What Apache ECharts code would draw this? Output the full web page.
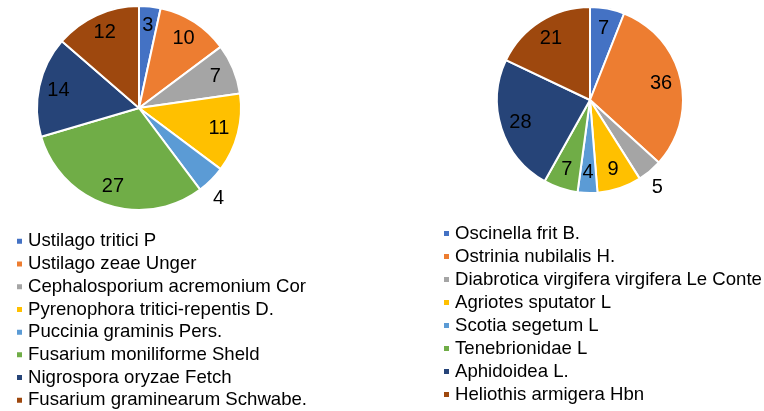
<!DOCTYPE html>
<html>
<head>
<meta charset="utf-8">
<script src="https://cdn.jsdelivr.net/npm/echarts@6/dist/echarts.min.js"></script>
<style>
  html, body { margin: 0; padding: 0; background: #fff; }
  #chart { width: 764px; height: 411px; }
</style>
</head>
<body>
<div id="chart"></div>
<script>
// left pie: diseases
const diseaseNames = [
  'Ustilago tritici P',
  'Ustilago zeae Unger',
  'Cephalosporium acremonium Cor',
  'Pyrenophora tritici-repentis D.',
  'Puccinia graminis Pers.',
  'Fusarium moniliforme Sheld',
  'Nigrospora oryzae Fetch',
  'Fusarium graminearum Schwabe.'
]
const diseaseValues = [3, 10, 7, 11, 4, 27, 14, 12]

// right pie: pests
const pestNames = [
  'Oscinella frit B.',
  'Ostrinia nubilalis H.',
  'Diabrotica virgifera virgifera Le Conte',
  'Agriotes sputator L',
  'Scotia segetum L',
  'Tenebrionidae L',
  'Aphidoidea L.',
  'Heliothis armigera Hbn'
]
const pestValues = [7, 36, 5, 9, 4, 7, 28, 21]

const colors = ['#4472C4', '#ED7D31', '#A5A5A5', '#FFC000', '#5B9BD5', '#70AD47', '#264478', '#9E480E']

// slices whose label sits outside the pie
const diseaseOutside = ['Puccinia graminis Pers.']
const pestOutside = ['Diabrotica virgifera virgifera Le Conte']

const chart = echarts.init(document.getElementById('chart'))

const toData = (names, values) => names.map((n, i) => ({ name: n, value: values[i] }))

const labelData = (names, values, outside, nudge) => names.map((n, i) => {
  const item = { name: n, value: values[i] }
  if (outside.includes(n)) {
    item.label = { position: 'outside', distanceToLabelLine: 0, offset: nudge }
    item.labelLine = { show: false, length: 14, length2: 0 }
  }
  return item
})

const pieSeries = (center, r, data) => ({
  type: 'pie',
  center: center,
  radius: [0, r],
  startAngle: 90,
  clockwise: true,
  animation: false,
  silent: true,
  data: data,
  itemStyle: { borderColor: '#fff', borderWidth: 2 },
  label: { show: false },
  labelLine: { show: false }
})

// transparent ring that only carries the value labels
const labelRing = (center, radius, data) => ({
  type: 'pie',
  center: center,
  radius: radius,
  startAngle: 90,
  clockwise: true,
  animation: false,
  silent: true,
  legendHoverLink: false,
  data: data,
  itemStyle: { color: 'transparent', borderWidth: 0 },
  label: {
    show: true,
    position: 'inside',
    formatter: '{c}',
    color: '#000',
    fontSize: 20,
    fontFamily: 'Liberation Sans, Arial, sans-serif'
  },
  labelLine: { show: false }
})

const legendBase = (lineH) => ({
  orient: 'vertical',
  icon: 'rect',
  itemWidth: 7,
  itemHeight: 7,
  itemGap: 0,
  height: 190,
  selectedMode: false,
  textStyle: {
    color: '#000',
    fontSize: 18.6,
    lineHeight: lineH,
    fontFamily: 'Liberation Sans, Arial, sans-serif'
  }
})

const option = {
  backgroundColor: '#fff',
  color: colors,
  legend: [
    Object.assign(legendBase(22.7), { left: 10, top: 225, data: diseaseNames }),
    Object.assign(legendBase(23), { left: 437, top: 217, data: pestNames })
  ],
  series: [
    pieSeries([139, 108], 102, toData(diseaseNames, diseaseValues)),
    labelRing([139, 108], [57, 102], labelData(diseaseNames, diseaseValues, diseaseOutside, [-8, 8])),
    pieSeries([590, 100], 93, toData(pestNames, pestValues)),
    labelRing([590, 100], [47, 93], labelData(pestNames, pestValues, pestOutside, [-7, 6]))
  ]
}

chart.setOption(option)
</script>
</body>
</html>
